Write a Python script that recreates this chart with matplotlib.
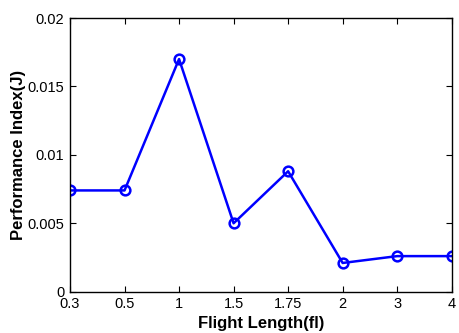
import matplotlib
matplotlib.use("Agg")
import matplotlib.pyplot as plt

categories = ["0.3", "0.5", "1", "1.5", "1.75", "2", "3", "4"]
values = [0.0074, 0.0074, 0.0170, 0.0050, 0.0088, 0.0021, 0.0026, 0.0026]
yticks = [0, 0.005, 0.01, 0.015, 0.02]
ytick_labels = ["0", "0.005", "0.01", "0.015", "0.02"]

plt.rcParams['font.family'] = ['Liberation Sans', 'DejaVu Sans']
fig = plt.figure(figsize=(4.59, 3.33), dpi=100)
ax = fig.add_axes([70/459, 1-291.7/333, (451.7-70)/459, (291.7-18)/333])
x = list(range(len(categories)))
ax.plot(x, values, color='#0000ff', linewidth=1.8, marker='o', markersize=7,
        markerfacecolor='none', markeredgecolor='#0000ff', markeredgewidth=1.8)
ax.set_xlim(0, len(categories)-1)
ax.set_ylim(0, 0.02)
ax.set_xticks(x)
ax.set_xticklabels(categories, fontsize=10.5)
ax.set_yticks(yticks)
ax.set_yticklabels(ytick_labels, fontsize=10.5)
ax.tick_params(axis='x', direction='in', top=True, length=4, width=0.8, pad=3.5)
ax.tick_params(axis='y', direction='in', right=True, length=4, width=0.8, pad=4)
for s in ax.spines.values():
    s.set_linewidth(1.0)
ax.set_xlabel("Flight Length(fl)", fontsize=12, fontweight='bold', labelpad=4)
ax.set_ylabel("Performance Index(J)", fontsize=12, fontweight='bold', labelpad=1)
fig.savefig("out.png", dpi=100)
